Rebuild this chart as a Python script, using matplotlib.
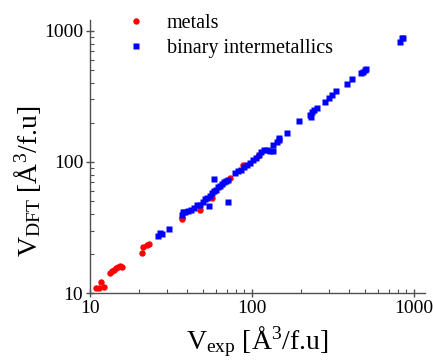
import matplotlib
matplotlib.use("Agg")
import matplotlib.pyplot as plt
from matplotlib.ticker import LogLocator, NullFormatter, FixedFormatter, FixedLocator

plt.rcParams['font.family'] = ['Liberation Serif', 'DejaVu Serif']
plt.rcParams['mathtext.fontset'] = 'custom'
plt.rcParams['mathtext.rm'] = 'Liberation Serif'
plt.rcParams['mathtext.it'] = 'Liberation Serif:italic'

# metals: experimental vs DFT volume (A^3 per formula unit)
metals_exp = [10.9, 11.4, 11.7, 12.2, 13.3, 13.7, 14.1, 14.5, 14.9, 15.3, 15.8,
              20.9, 21.2, 22.5, 23.1, 37.0, 37.2, 47.8, 56.6, 73.1, 88.0, 109.0]
metals_dft = [10.9, 10.9, 12.1, 11.1, 14.2, 14.7, 15.0, 15.5, 15.8, 16.1, 15.8,
              20.2, 22.4, 23.2, 23.7, 36.7, 37.5, 43.0, 53.1, 75.5, 94.8, 111.0]

# binary intermetallics
inter_exp = [26.3, 27.1, 27.8, 30.7, 37.0, 37.5, 38.6, 40.3, 42.0, 43.9, 45.7,
             47.8, 49.9, 51.3, 52.8, 55.1, 56.6, 58.2, 59.9, 61.7, 63.4, 65.3,
             67.1, 69.1, 71.1, 54.3, 71.1, 58.2,
             78.5, 82.0, 85.5, 89.3, 93.2, 97.2, 101, 106, 110, 114, 119, 124,
             129, 135, 135, 143, 147, 147, 164, 195, 228, 231, 235, 241, 252,
             282, 299, 312, 330, 386, 414, 471, 484, 499, 506, 820, 844, 855]
inter_dft = [27.2, 28.7, 28.2, 30.8, 39.4, 41.5, 41.5, 42.3, 43.0, 44.6, 47.0,
             47.0, 49.6, 52.3, 53.1, 55.0, 58.0, 60.1, 61.1, 64.4, 65.6, 67.9,
             70.3, 71.6, 72.9, 46.2, 49.6, 74.2,
             82.4, 85.3, 86.8, 91.6, 94.8, 98.2, 103.5, 107, 113, 119, 124, 124,
             121, 121, 135, 142, 152, 147, 166, 206, 229, 221, 241, 250, 258,
             287, 308, 325, 348, 394, 430, 478, 486, 504, 513, 824, 885, 885]

fig = plt.figure(figsize=(4.33, 3.61), dpi=100)
ax = fig.add_axes([0.208, 0.188, 0.773, 0.757])

ax.plot(metals_exp, metals_dft, 'o', color='#ff0000', ms=4.6, mec='none', label='metals')
ax.plot(inter_exp, inter_dft, 's', color='#0000ff', ms=4.3, mec='none', label='binary intermetallics')

ax.set_xscale('log')
ax.set_yscale('log')
ax.set_xlim(10, 1170)
ax.set_ylim(10, 1213)

for a in (ax.xaxis, ax.yaxis):
    a.set_major_locator(FixedLocator([10, 100, 1000]))
    a.set_major_formatter(FixedFormatter(['10', '100', '1000']))
    a.set_minor_locator(LogLocator(base=10, subs=range(2, 10)))
    a.set_minor_formatter(NullFormatter())

ax.spines['top'].set_visible(False)
ax.spines['right'].set_visible(False)
for s in ('left', 'bottom'):
    ax.spines[s].set_color('#505050')
    ax.spines[s].set_linewidth(1.0)
ax.tick_params(which='major', direction='inout', length=6, width=1, color='#505050',
               labelsize=14, pad=2)
ax.tick_params(which='minor', direction='in', length=3, width=0.8, color='#505050')

ax.set_xlabel(r'V$_{\mathrm{exp}}$ [Å$^{3}$/f.u]', fontsize=20)
ax.set_ylabel(r'V$_{\mathrm{DFT}}$ [Å$^{3}$/f.u]', fontsize=20)
ax.xaxis.set_label_coords(0.5, -0.115)
ax.yaxis.set_label_coords(-0.142, 0.41)

fig.legend(loc='upper left', bbox_to_anchor=(0.26, 0.985), frameon=False, fontsize=14.5,
           handlelength=1.5, handletextpad=0.8, labelspacing=0.3, borderaxespad=0,
           numpoints=1)

fig.savefig('out.png', dpi=100)
